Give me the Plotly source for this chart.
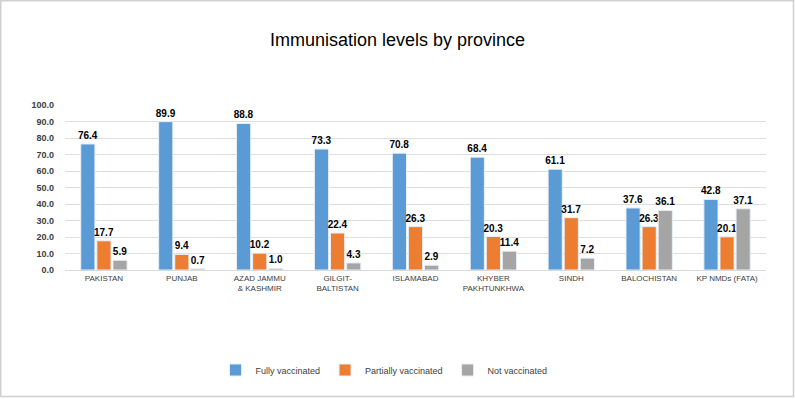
import plotly.graph_objects as go

categories = ["PAKISTAN", "PUNJAB", "AZAD JAMMU<br>& KASHMIR", "GILGIT-<br>BALTISTAN",
              "ISLAMABAD", "KHYBER<br>PAKHTUNKHWA", "SINDH", "BALOCHISTAN", "KP NMDs (FATA)"]
fully = [76.4, 89.9, 88.8, 73.3, 70.8, 68.4, 61.1, 37.6, 42.8]
partially = [17.7, 9.4, 10.2, 22.4, 26.3, 20.3, 31.7, 26.3, 20.1]
notv = [5.9, 0.7, 1.0, 4.3, 2.9, 11.4, 7.2, 36.1, 37.1]
series_names = ["Fully vaccinated", "Partially vaccinated", "Not vaccinated"]
colors = ["#5B9BD5", "#ED7D31", "#A5A5A5"]

fig = go.Figure()
for name, vals, col in zip(series_names, [fully, partially, notv], colors):
    fig.add_trace(go.Bar(
        x=categories, y=vals, name=name,
        marker=dict(color=col, line=dict(color="#e8eef5", width=1)),
        text=[f"{v:.1f}" for v in vals], textposition="outside",
        constraintext="none",
        textfont=dict(family="Liberation Sans, Arial", size=10, color="black"),
        texttemplate="<b>%{text}</b>", cliponaxis=False,
    ))

L, R, T, B = 65, 766, 105, 270
W, H = 795, 399
def px(x): return (x - L) / (R - L)
def py(y): return (B - y) / (B - T)

fig.add_shape(type="rect", xref="paper", yref="paper",
              x0=px(0.75), x1=px(793.5), y0=py(0.75), y1=py(396.5),
              line=dict(color="#d0d0d0", width=1.5), fillcolor="rgba(0,0,0,0)", layer="below")

fig.update_layout(
    width=W, height=H,
    margin=dict(l=L, r=W - R, t=T, b=H - B, autoexpand=False),
    paper_bgcolor="white", plot_bgcolor="white",
    barmode="group", bargap=0.38, bargroupgap=0.12,
    title=dict(text="Immunisation levels by province", x=0.5, xanchor="center",
               y=1 - 40 / H, yanchor="middle", yref="container",
               font=dict(family="Liberation Sans, Arial", size=18, color="black")),
    font=dict(family="Liberation Sans, Arial"),
    legend=dict(orientation="h", x=px(384), xanchor="center", y=py(370), yanchor="middle",
                font=dict(size=9, color="#404040"), itemwidth=30),
    yaxis=dict(range=[0, 100], dtick=10, tickformat=".1f",
               showgrid=True, gridcolor="#dedede", gridwidth=1,
               zeroline=False, showline=False, ticks="",
               tickfont=dict(size=9, color="#404040", family="Liberation Sans, Arial"),
               ticklabelstandoff=10, automargin=False),
    xaxis=dict(showline=True, linecolor="#d9d9d9", linewidth=1, ticks="",
               tickfont=dict(size=8, color="#404040"), tickangle=0, automargin=False),
)
fig.update_yaxes(tickprefix="<b>", ticksuffix="</b>")
fig.write_html("out.html", config={"displayModeBar": False},
               post_script="document.body.style.margin='0px';")
